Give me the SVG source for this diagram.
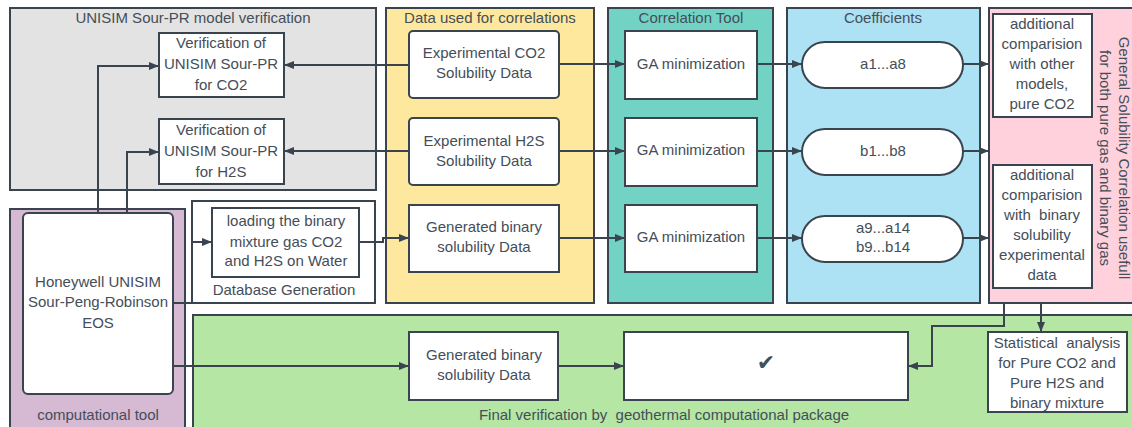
<svg xmlns="http://www.w3.org/2000/svg" width="1132" height="427" viewBox="0 0 1132 427">
<defs>
<style>
.c{stroke:#3a444f;stroke-width:2}
.b{fill:#fff;stroke:#3a444f;stroke-width:2}
text{font-family:"Liberation Sans",Arial,sans-serif;font-size:15px;fill:#444e59;text-anchor:middle}
.l{fill:none;stroke:#3a444f;stroke-width:2}
</style>
<marker id="ar" viewBox="0 0 10 8" refX="10" refY="4" markerWidth="10" markerHeight="8" markerUnits="userSpaceOnUse" orient="auto">
<path d="M0,0 L10,4 L0,8 z" fill="#3a444f"/>
</marker>
</defs>
<rect width="1132" height="427" fill="#fff"/>

<g id="containers">
<g id="verification-group"><rect class="c" x="10" y="8" width="366" height="182" fill="#e3e3e3"/><text x="193" y="23">UNISIM Sour-PR model verification</text></g>
<g id="computational-tool"><rect class="c" x="10" y="209" width="175" height="225" fill="#d6b9d3"/><text x="98" y="420">computational tool</text></g>
<g id="database-generation"><rect class="c" x="192" y="201" width="183" height="102" fill="#fff"/><text x="284" y="295">Database Generation</text></g>
<g id="final-verification"><rect class="c" x="193" y="315" width="945" height="120" fill="#b5e6a4"/><text x="664" y="420" xml:space="preserve">Final verification by  geothermal computational package</text></g>
<g id="data-correlations"><rect class="c" x="386" y="8" width="208" height="295" fill="#fee89d"/><text x="490" y="23">Data used for correlations</text></g>
<g id="correlation-tool"><rect class="c" x="608" y="8" width="165" height="295" fill="#72d3c5"/><text x="691" y="23">Correlation Tool</text></g>
<g id="coefficients"><rect class="c" x="787" y="8" width="193" height="295" fill="#ade1f4"/><text x="883" y="23">Coefficients</text></g>
<g id="general-correlation"><rect class="c" x="989" y="8" width="150" height="295" fill="#ffd1dc"/>
<text transform="translate(1119,158) rotate(90)">General Solubility Correlation usefull</text>
<text transform="translate(1100,158) rotate(90)">for both pure gas and binary gas</text></g>
</g>

<g id="connectors">
<polyline class="l" points="98,213 98,66 159,66" marker-end="url(#ar)"/>
<polyline class="l" points="127,213 127,152 159,152" marker-end="url(#ar)"/>
<line class="l" x1="409" y1="65" x2="284" y2="65" marker-end="url(#ar)"/>
<line class="l" x1="409" y1="151" x2="284" y2="151" marker-end="url(#ar)"/>
<line class="l" x1="559" y1="64" x2="625" y2="64" marker-end="url(#ar)"/>
<line class="l" x1="559" y1="151" x2="625" y2="151" marker-end="url(#ar)"/>
<line class="l" x1="559" y1="238" x2="625" y2="238" marker-end="url(#ar)"/>
<line class="l" x1="757" y1="64" x2="802" y2="64" marker-end="url(#ar)"/>
<line class="l" x1="757" y1="151" x2="802" y2="151" marker-end="url(#ar)"/>
<line class="l" x1="757" y1="238" x2="802" y2="238" marker-end="url(#ar)"/>
<line class="l" x1="963" y1="64" x2="989" y2="64" marker-end="url(#ar)"/>
<line class="l" x1="963" y1="151" x2="989" y2="151" marker-end="url(#ar)"/>
<line class="l" x1="963" y1="238" x2="989" y2="238" marker-end="url(#ar)"/>
<polyline class="l" points="173,303 192,303 192,242 212,242" marker-end="url(#ar)"/>
<polyline class="l" points="359,242 383,242 383,238 409,238" marker-end="url(#ar)"/>
<line class="l" x1="173" y1="366" x2="409" y2="366" marker-end="url(#ar)"/>
<line class="l" x1="558" y1="366" x2="624" y2="366" marker-end="url(#ar)"/>
<polyline class="l" points="1004,303 1004,326 932,326 932,366 908,366" marker-end="url(#ar)"/>
<line class="l" x1="1041" y1="303" x2="1041" y2="332" marker-end="url(#ar)"/>
</g>

<g id="verif-co2"><rect class="b" x="159" y="33" width="125" height="64"/><text x="221" y="48">Verification of</text><text x="221" y="69">UNISIM Sour-PR</text><text x="221" y="90">for CO2</text></g>
<g id="verif-h2s"><rect class="b" x="159" y="119" width="125" height="65"/><text x="221" y="135">Verification of</text><text x="221" y="156">UNISIM Sour-PR</text><text x="221" y="177">for H2S</text></g>
<g id="honeywell"><rect class="b" x="23" y="213" width="150" height="181" rx="5"/><text x="98" y="287">Honeywell UNISIM</text><text x="98" y="307">Sour-Peng-Robinson</text><text x="98" y="328">EOS</text></g>
<g id="loading"><rect class="b" x="212" y="208" width="147" height="69"/><text x="286" y="226">loading the binary</text><text x="286" y="247">mixture gas CO2</text><text x="286" y="266">and H2S on Water</text></g>
<g id="exp-co2"><rect class="b" x="409" y="31" width="150" height="67" rx="4"/><text x="484" y="58">Experimental CO2</text><text x="484" y="78">Solubility Data</text></g>
<g id="exp-h2s"><rect class="b" x="409" y="118" width="150" height="67" rx="4"/><text x="484" y="146">Experimental H2S</text><text x="484" y="166">Solubility Data</text></g>
<g id="gen-binary"><rect class="b" x="409" y="205" width="150" height="67"/><text x="484" y="232">Generated binary</text><text x="484" y="252">solubility Data</text></g>
<g id="ga1"><rect class="b" x="625" y="31" width="132" height="68"/><text x="691" y="69">GA minimization</text></g>
<g id="ga2"><rect class="b" x="625" y="118" width="132" height="68"/><text x="691" y="155">GA minimization</text></g>
<g id="ga3"><rect class="b" x="625" y="205" width="132" height="67"/><text x="691" y="242">GA minimization</text></g>
<g id="coef-a"><rect class="b" x="802" y="42" width="161" height="46" rx="23"/><text x="883" y="69">a1...a8</text></g>
<g id="coef-b"><rect class="b" x="802" y="129" width="161" height="46" rx="23"/><text x="883" y="156">b1...b8</text></g>
<g id="coef-ab"><rect class="b" x="802" y="216" width="161" height="46" rx="23"/><text x="883" y="233">a9...a14</text><text x="883" y="252">b9...b14</text></g>
<g id="comp-pure"><rect class="b" x="993" y="14" width="99" height="103"/><text x="1042" y="29">additional</text><text x="1042" y="49">comparision</text><text x="1042" y="69">with other</text><text x="1042" y="89">models,</text><text x="1042" y="109">pure CO2</text></g>
<g id="comp-binary"><rect class="b" x="993" y="165" width="99" height="123"/><text x="1042" y="180">additional</text><text x="1042" y="200">comparision</text><text x="1042" y="220" xml:space="preserve">with  binary</text><text x="1042" y="240">solubility</text><text x="1042" y="260">experimental</text><text x="1042" y="280">data</text></g>
<g id="gen-binary-2"><rect class="b" x="409" y="332" width="149" height="68"/><text x="484" y="360">Generated binary</text><text x="484" y="380">solubility Data</text></g>
<g id="check"><rect class="b" x="624" y="332" width="284" height="68"/><text x="766" y="370" style="font-family:'DejaVu Sans',sans-serif;font-size:22px">✔</text></g>
<g id="statistical"><rect class="b" x="988" y="332" width="139" height="80"/><text x="1057" y="348" xml:space="preserve">Statistical  analysis</text><text x="1057" y="368">for Pure CO2 and</text><text x="1057" y="388">Pure H2S and</text><text x="1057" y="408">binary mixture</text></g>
</svg>
